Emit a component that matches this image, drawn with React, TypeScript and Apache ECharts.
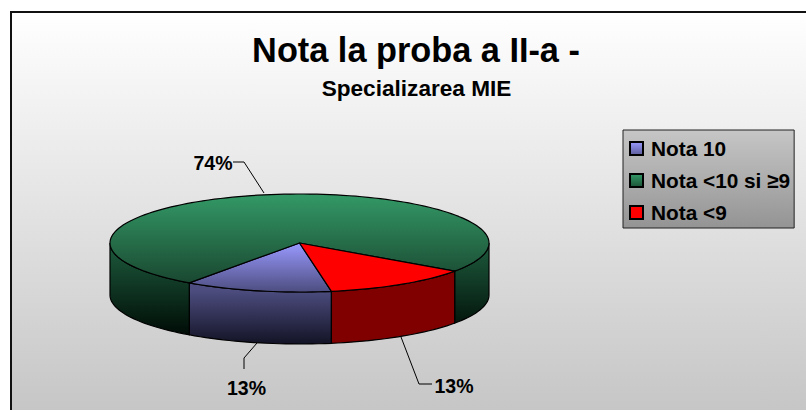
import React, { useEffect, useRef } from "react";
import * as echarts from "echarts";

const categories = ["Nota 10", "Nota <10 si ≥9", "Nota <9"];
const shares = [12.5, 74.4, 12.5];
const titleText = "Nota la proba a II-a -";
const subtitleText = "Specializarea MIE";

const FONT = '"Liberation Sans", Arial, sans-serif';
const CX = 299.5, CY = 243, RX = 189.5, RY = 49, DEPTH = 52;
const START = 80.3;

const lg = (x: number, y: number, x2: number, y2: number, a: string, b: string, global = true) =>
  new echarts.graphic.LinearGradient(x, y, x2, y2, [{ offset: 0, color: a }, { offset: 1, color: b }], global);

const topFill = [
  lg(0, 243, 0, 292, "#9999ff", "#4d4d80"),
  lg(0, 194, 0, 292, "#339966", "#173f2b"),
  "#ff0000",
];
const sideFill = [
  lg(0, 290, 0, 345, "#4d4d80", "#121224"),
  lg(0, 245, 0, 335, "#1d5a3c", "#000c06"),
  "#800000",
];
const legendFill = [
  lg(0, 0, 0, 1, "#9999ff", "#5d5d9a", false),
  lg(0, 0, 0, 1, "#339966", "#1c5338", false),
  "#ff0000",
];
const leaders: number[][][] = [
  [[257, 343], [244, 358], [244, 369]],
  [[264, 193], [244, 162], [233, 162]],
  [[401, 337], [419, 384], [432, 384]],
];
const labelPos = [[246.5, 387.5], [213, 163], [454, 385.5]];

const pt = (deg: number, dy = 0): number[] => {
  const r = (deg * Math.PI) / 180;
  return [CX + RX * Math.cos(r), CY + RY * Math.sin(r) + dy];
};

function arc(a0: number, a1: number, dy = 0) {
  const out: number[][] = [];
  const n = Math.max(2, Math.ceil(Math.abs(a1 - a0) / 2));
  for (let i = 0; i <= n; i++) out.push(pt(a0 + ((a1 - a0) * i) / n, dy));
  return out;
}

function sidePolys(a0: number, a1: number): [number, number][] {
  const res: [number, number][] = [];
  for (let k = -1; k <= 2; k++) {
    const lo = Math.max(a0, 360 * k);
    const hi = Math.min(a1, 360 * k + 180);
    if (hi > lo) res.push([lo, hi]);
  }
  return res;
}

const total = shares.reduce((s, v) => s + v, 0);

function makeSeries(idx: number) {
  const before = shares.slice(0, idx).reduce((s, v) => s + v, 0);
  const a0 = START + (before / total) * 360;
  const a1 = a0 + (shares[idx] / total) * 360;
  return {
    type: "custom",
    name: categories[idx],
    coordinateSystem: "none",
    silent: true,
    itemStyle: { color: legendFill[idx], borderColor: "#000", borderWidth: 1 },
    data: [shares[idx]],
    renderItem: (_: any, api: any) => {
      const value = api.value(0);
      const stroke = { stroke: "#000", lineWidth: 1.2 };
      const children: any[] = [];
      sidePolys(a0, a1).forEach(([lo, hi]) => {
        children.push({
          type: "polygon",
          shape: { points: [...arc(lo, hi), ...arc(hi, lo, DEPTH)] },
          style: { fill: sideFill[idx], ...stroke },
        });
      });
      children.push({
        type: "polygon",
        shape: { points: [[CX, CY], ...arc(a0, a1)] },
        style: { fill: topFill[idx], ...stroke, lineJoin: "round" },
      });
      children.push({
        type: "polyline",
        shape: { points: leaders[idx] },
        style: { fill: "none", stroke: "#000", lineWidth: 1 },
      });
      children.push({
        type: "text",
        x: labelPos[idx][0],
        y: labelPos[idx][1],
        style: {
          text: `${Math.round(value)}%`,
          fill: "#000",
          font: `bold 19.5px ${FONT}`,
          align: "center",
          verticalAlign: "middle",
        },
      });
      return { type: "group", children };
    },
  };
}

export default function App() {
  const ref = useRef<HTMLDivElement>(null);
  useEffect(() => {
    const chart = echarts.init(ref.current!, undefined, { renderer: "svg" });
    chart.setOption({
      animation: false,
      backgroundColor: "#ffffff",
      graphic: [
        {
          type: "rect",
          z: -10,
          shape: { x: 11, y: 12, width: 815, height: 420 },
          style: { fill: lg(0, 12, 0, 410, "#ffffff", "#c6c6c6"), stroke: "#111", lineWidth: 2 },
        },
      ],
      title: [
        {
          text: titleText,
          left: 411,
          top: 28,
          textAlign: "center",
          textStyle: { fontFamily: FONT, fontWeight: "bold", fontSize: 34.3, color: "#000" },
        },
        {
          text: subtitleText,
          left: 411.5,
          top: 72,
          textAlign: "center",
          textStyle: { fontFamily: FONT, fontWeight: "bold", fontSize: 22.6, color: "#000" },
        },
      ],
      legend: {
        orient: "vertical",
        left: 623,
        top: 130,
        icon: "rect",
        itemWidth: 13,
        itemHeight: 13,
        itemGap: 11,
        padding: [8, 4, 5, 6],
        backgroundColor: lg(0, 0, 0, 1, "#c6c6c6", "#949494", false),
        borderColor: "#222",
        borderWidth: 1,
        textStyle: { fontFamily: FONT, fontWeight: "bold", fontSize: 20.8, color: "#000", padding: [0, 0, 0, 3] },
        data: categories,
        selectedMode: false,
      },
      series: [makeSeries(0), makeSeries(1), makeSeries(2)],
    });
    return () => chart.dispose();
  }, []);
  return <div ref={ref} style={{ position: "absolute", left: 0, top: 0, width: 806, height: 410 }} />;
}
